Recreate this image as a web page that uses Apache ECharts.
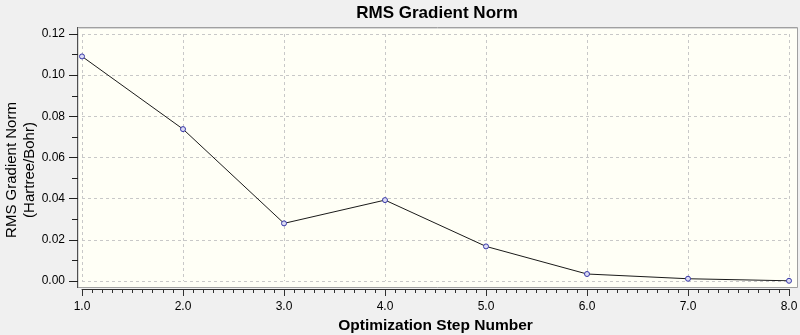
<!DOCTYPE html>
<html>
<head>
<meta charset="utf-8">
<title>RMS Gradient Norm</title>
<script src="https://cdn.jsdelivr.net/npm/echarts@6/dist/echarts.min.js"></script>
<style>
  html, body { margin: 0; padding: 0; background: #f0f0f0; }
  #chart { width: 800px; height: 335px; }
</style>
</head>
<body>
<div id="chart"></div>
<script>
// Optimization steps and the RMS gradient norm at each step (Hartree/Bohr)
const steps = [1, 2, 3, 4, 5, 6, 7, 8];
const rmsGradient = [0.1091, 0.0738, 0.0280, 0.0393, 0.0168, 0.0034, 0.0011, 0.0001];

const chartTitle = 'RMS Gradient Norm';
const xAxisTitle = 'Optimization Step Number';
const yAxisTitleLines = ['RMS Gradient Norm', '(Hartree/Bohr)'];

const FONT = '"Liberation Sans", Arial, sans-serif';

const chart = echarts.init(document.getElementById('chart'), null, { renderer: 'canvas' });

chart.setOption({
  backgroundColor: '#f0f0f0',
  animation: false,
  grid: {
    left: 82, right: 11, top: 34, bottom: 54,
    containLabel: false,
    outerBoundsMode: 'none'
  },
  graphic: [
    // plot panel with its bevelled frame
    {
      type: 'rect', z: -10, silent: true,
      shape: { x: 77.5, y: 27.5, width: 720, height: 260 },
      style: { fill: '#fffff6', stroke: '#a0a0a0', lineWidth: 1 }
    },
    {
      type: 'polyline', z: -9, silent: true,
      shape: { points: [[78.5, 287], [78.5, 28.5], [797, 28.5]] },
      style: { stroke: '#d8d8d8', lineWidth: 1, fill: null }
    },
    {
      type: 'line', z: -9, silent: true,
      shape: { x1: 77.5, y1: 27, x2: 77.5, y2: 288 },
      style: { stroke: '#505050', lineWidth: 1 }
    },
    {
      type: 'text', silent: true,
      x: 437, y: 13,
      style: {
        text: chartTitle, font: 'bold 17px ' + FONT, fill: '#000',
        align: 'center', verticalAlign: 'middle'
      }
    },
    {
      type: 'text', silent: true,
      x: 12, y: 170, rotation: Math.PI / 2,
      style: {
        text: yAxisTitleLines[0], font: '15px ' + FONT, fill: '#000',
        align: 'center', verticalAlign: 'middle'
      }
    },
    {
      type: 'text', silent: true,
      x: 30, y: 170, rotation: Math.PI / 2,
      style: {
        text: yAxisTitleLines[1], font: '15px ' + FONT, fill: '#000',
        align: 'center', verticalAlign: 'middle'
      }
    }
  ],
  xAxis: {
    type: 'value',
    min: 1, max: 8, interval: 1,
    offset: 8,
    name: xAxisTitle,
    nameLocation: 'middle',
    nameGap: 29,
    nameTextStyle: { fontFamily: FONT, fontSize: 15.5, fontWeight: 'bold', color: '#000' },
    axisLine: { show: true, onZero: false, lineStyle: { color: '#303030', width: 1 } },
    axisTick: { show: true, inside: false, length: 7, lineStyle: { color: '#303030' } },
    minorTick: { show: true, splitNumber: 10, length: 4, lineStyle: { color: '#303030' } },
    axisLabel: {
      margin: 12, fontFamily: FONT, fontSize: 12, color: '#000',
      formatter: v => v.toFixed(1)
    },
    splitLine: { show: true, lineStyle: { color: '#c8c8c8', type: [3, 3], width: 1 } }
  },
  yAxis: {
    type: 'value',
    min: 0, max: 0.12, interval: 0.02,
    offset: 4,
    axisLine: { show: false, onZero: false },
    axisTick: { show: true, inside: false, length: 9, lineStyle: { color: '#202020' } },
    minorTick: { show: true, splitNumber: 2, length: 6, lineStyle: { color: '#202020' } },
    axisLabel: {
      margin: 13, fontFamily: FONT, fontSize: 12, color: '#000',
      formatter: v => v.toFixed(2)
    },
    splitLine: { show: true, lineStyle: { color: '#c8c8c8', type: [3, 3], width: 1 } }
  },
  series: [{
    type: 'line',
    data: steps.map((s, i) => [s, rmsGradient[i]]),
    symbol: 'circle',
    symbolSize: 5,
    showAllSymbol: true,
    lineStyle: { color: '#1a1a1a', width: 1 },
    itemStyle: { color: '#dcdcf4', borderColor: '#3838a8', borderWidth: 1 },
    emphasis: { disabled: true },
    z: 5
  }]
});
</script>
</body>
</html>
